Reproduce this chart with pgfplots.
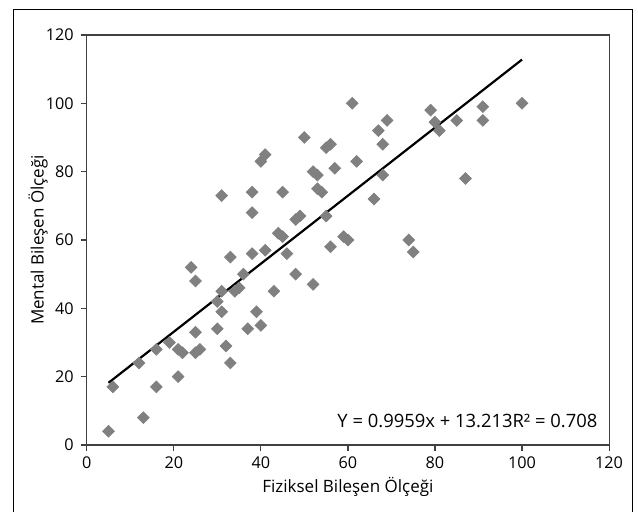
\documentclass[border=0pt]{standalone}
\usepackage{fontspec}
\setmainfont{Open Sans}
\usepackage{pgfplots}
\pgfplotsset{compat=1.18}
\definecolor{markgray}{RGB}{128,128,128}
\definecolor{axgray}{RGB}{64,64,64}
\begin{document}
\begin{tikzpicture}[font=\fontsize{8.5}{10}\selectfont]
  \begin{axis}[
      scale only axis,
      width=261.2pt, height=205pt,
      xmin=0, xmax=120, ymin=0, ymax=120,
      xtick={0,20,...,120}, ytick={0,20,...,120},
      tick align=outside,
      tick pos=left,
      major tick length=3pt,
      axis line style={axgray, line width=0.6pt},
      every tick/.style={axgray, line width=0.6pt},
      /pgf/number format/assume math mode=true,
      tick label style={font=\fontsize{8.1}{9.5}\selectfont},
      xticklabel style={yshift=0.5pt},
      xlabel={Fiziksel Bileşen Ölçeği},
      ylabel={Mental Bileşen Ölçeği},
      xlabel style={at={(axis description cs:0.5,-0.1024)}, anchor=center},
      ylabel style={at={(axis description cs:-0.093,0.5)}, anchor=center},
      clip=false,
    ]
    % data points
    \addplot[only marks, mark=square*, mark size=2.05pt,
             mark options={rotate=45, fill=markgray, draw=markgray}]
      coordinates {
        (5,4) (6,17) (13,8) (12,24) (16,17) (16,28) (19,30) (21,20)
        (21,28) (22,27) (25,27) (26,28) (25,33) (30,34) (32,29) (33,24)
        (31,39) (30,42) (31,45) (34,45) (35,46) (36,50) (33,55) (24,52)
        (25,48) (37,34) (40,35) (39,39) (43,45) (48,50) (52,47) (31,73)
        (38,74) (45,74) (53,75) (54,74) (38,68) (38,56) (41,57) (46,56)
        (44,62) (45,61) (48,66) (49,67) (55,67) (56,58) (59,61) (60,60)
        (40,83) (41,85) (50,90) (55,87) (56,88) (61,100) (57,81) (52,80)
        (53,79) (62,83) (66,72) (67,92) (68,88) (69,95) (68,79) (74,60)
        (75,56.5) (79,98) (80,94.5) (81,92) (85,95) (87,78) (91,99) (91,95)
        (100,100)
      };
    % linear trend line
    \addplot[black, line width=1.1pt] coordinates {(5,18.19) (100,112.80)};
    \node[anchor=east, inner sep=0pt, font=\fontsize{9.2}{11}\selectfont]
      at (axis cs:117.4,7) {Y = 0.9959x + 13.213R² = 0.708};
  \end{axis}
  \draw[black, line width=0.5pt] (-36.35pt,-40pt) rectangle (273pt,217.5pt);
  \pgfresetboundingbox
  \path (-43.35pt,-33.5pt) rectangle (275.65pt,222.5pt);
\end{tikzpicture}
\end{document}
